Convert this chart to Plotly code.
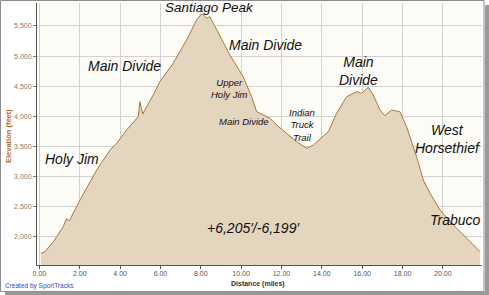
import plotly.graph_objects as go

# Elevation profile (distance in miles, elevation in feet)
distance_mi = [0.07, 0.27, 0.69, 1.18, 1.35, 1.48, 2.01, 2.84, 3.50, 3.83, 4.32, 4.90, 4.98, 5.12,
               5.73, 5.97, 6.63, 7.30, 7.79, 7.99, 8.09, 8.29, 8.45, 8.79, 9.44, 10.10, 10.52,
               10.77, 11.10, 11.43, 11.76, 12.26, 12.75, 13.25, 13.58, 13.91, 14.32, 14.73,
               15.23, 15.73, 15.97, 16.30, 16.55, 16.88, 17.13, 17.46, 17.87, 18.20, 18.70,
               19.03, 19.36, 19.86, 20.52, 21.18, 21.84]
elevation_ft = [1722, 1749, 1915, 2165, 2304, 2260, 2608, 3107, 3440, 3551, 3772, 3993, 4242, 4038,
                4408, 4574, 4880, 5268, 5600, 5683, 5700, 5628, 5655, 5434, 5018, 4657, 4325,
                4076, 4021, 3966, 3855, 3717, 3577, 3468, 3522, 3620, 3743, 4049,
                4325, 4408, 4382, 4481, 4353, 4104, 4010, 4104, 4076, 3827, 3328,
                2941, 2720, 2442, 2193, 1972, 1749]

x_ticks = [0, 2, 4, 6, 8, 10, 12, 14, 16, 18, 20]
y_ticks = [2000, 2500, 3000, 3500, 4000, 4500, 5000, 5500]

# Labels: (text, x miles, y feet, font size)
labels = [
    ("Santiago Peak", 8.41, 5800, 13.5),
    ("Main Divide", 4.24, 4835, 14),
    ("Main Divide", 11.23, 5184, 14),
    ("Holy Jim", 1.61, 3290, 14),
    ("Upper<br>Holy Jim", 9.44, 4453, 9.5),
    ("Main Divide", 10.14, 3921, 9.5),
    ("Indian<br>Truck<br>Trail", 13.01, 3855, 9.5),
    ("Main<br>Divide", 15.84, 4744, 14),
    ("West<br>Horsethief", 20.25, 3622, 14),
    ("Trabuco", 20.65, 2276, 14),
    ("+6,205\u2032/-6,199\u2032", 10.63, 2143, 14),
]

W, H = 489, 295
ML, MR, MT, MB = 37, 7, 3, 30
PW, PH = W - ML - MR, H - MT - MB


def px(xp):
    return (xp - ML) / PW


def py(yp):
    return (H - MB - yp) / PH


fig = go.Figure()
fig.add_trace(go.Scatter(
    x=distance_mi, y=elevation_ft, mode="lines",
    line=dict(color="#A57A3E", width=1),
    fill="tozeroy", fillcolor="#E4D5BE",
    hoverinfo="skip", showlegend=False,
))

for text, xv, yv, size in labels:
    fig.add_annotation(
        x=xv, y=yv, xref="x", yref="y", text="<i>" + text + "</i>",
        showarrow=False, xanchor="center", yanchor="middle",
        font=dict(family="Liberation Sans, Arial", size=size, color="#111111"),
    )

# axis titles and credit
fig.add_annotation(
    x=px(8), y=py(136), xref="paper", yref="paper", text="<b>Elevation (feet)</b>",
    textangle=-90, showarrow=False, xanchor="center", yanchor="middle",
    font=dict(family="Liberation Sans, Arial", size=7.5, color="#B06A1E"),
)
fig.add_annotation(
    x=px(258), y=py(284), xref="paper", yref="paper", text="<b>Distance (miles)</b>",
    showarrow=False, xanchor="center", yanchor="middle",
    font=dict(family="Liberation Sans, Arial", size=7, color="#333333"),
)
fig.add_annotation(
    x=px(3), y=py(286), xref="paper", yref="paper", text="Created by SportTracks",
    showarrow=False, xanchor="left", yanchor="middle",
    font=dict(family="Liberation Sans, Arial", size=6.5, color="#2F4FC8"),
)

# outer frame and shadow
fig.add_shape(type="rect", xref="paper", yref="paper",
              x0=px(485), x1=px(489), y0=py(5), y1=py(295),
              fillcolor="#9A9A9A", line=dict(width=0), layer="below")
fig.add_shape(type="rect", xref="paper", yref="paper",
              x0=px(5), x1=px(489), y0=py(292), y1=py(295),
              fillcolor="#9A9A9A", line=dict(width=0), layer="below")
fig.add_shape(type="rect", xref="paper", yref="paper",
              x0=px(0.5), x1=px(484), y0=py(0.5), y1=py(291.5),
              line=dict(color="#8C8C8C", width=1), fillcolor="rgba(0,0,0,0)")

fig.update_layout(
    width=W, height=H,
    margin=dict(l=ML, r=MR, t=MT, b=MB, pad=0),
    paper_bgcolor="#FFFFFF", plot_bgcolor="#FCFBF6",
    font=dict(family="Liberation Sans, Arial", size=7, color="#8A7A66"),
)
fig.update_xaxes(
    range=[-0.12, 21.94], tickvals=x_ticks, tickformat=".2f",
    showgrid=True, gridcolor="#D2D2D2", gridwidth=1,
    showline=True, linecolor="#555555", linewidth=1, mirror=False,
    ticks="outside", ticklen=3, tickcolor="#555555", zeroline=False,
    ticklabelstandoff=-1,
    tickfont=dict(size=7, color="#555555"),
)
fig.update_yaxes(
    range=[1528, 5882], tickvals=y_ticks, tickformat=",",
    showgrid=True, gridcolor="#D2D2D2", gridwidth=1,
    showline=True, linecolor="#555555", linewidth=1,
    ticks="outside", ticklen=3, tickcolor="#8A7A66", zeroline=False,
    tickfont=dict(size=7, color="#8A7A66"),
)

fig.write_html("out.html")
